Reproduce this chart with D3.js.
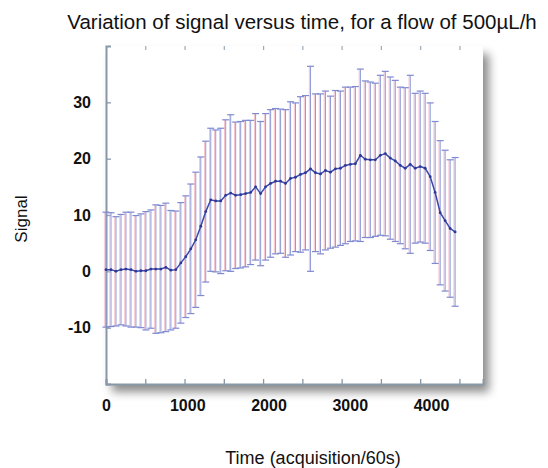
<!DOCTYPE html>
<html><head><meta charset="utf-8">
<script src="https://cdn.jsdelivr.net/npm/d3@7"></script>
<style>
html,body{margin:0;padding:0;background:#fff;}
svg{display:block;font-family:"Liberation Sans",Arial,Helvetica,sans-serif;}
</style></head>
<body><svg id="c" width="548" height="468"></svg>
<script>
const titleText = "Variation of signal versus time, for a flow of 500µL/h";
const xLabelText = "Time (acquisition/60s)";
const yLabelText = "Signal";
const time = [0,64,127,191,254,318,381,445,508,572,635,699,762,826,889,953,1016,1080,1143,1207,1270,1334,1397,1461,1524,1588,1651,1715,1778,1842,1905,1969,2032,2096,2159,2223,2286,2350,2413,2477,2540,2604,2667,2731,2794,2858,2921,2985,3048,3112,3175,3239,3302,3366,3429,3493,3556,3620,3683,3747,3810,3874,3937,4001,4064,4128,4191,4255,4318,4382,4445];
const meanVals = [0.3,0.3,0.0,0.3,0.4,0.3,0.0,0.1,0.1,0.4,0.4,0.4,0.7,0.2,0.3,1.5,2.6,4.0,5.6,8.0,10.6,12.7,12.5,12.5,13.5,13.9,13.5,13.6,13.8,14.0,15.0,13.8,15.0,15.6,16.0,16.0,15.6,16.5,16.7,17.2,17.5,18.2,17.5,17.3,17.9,17.6,18.2,18.3,18.8,19.0,19.1,20.6,19.9,19.8,19.8,20.6,20.9,20.1,19.6,18.8,18.3,19.0,18.3,18.6,18.3,16.8,14.0,10.4,9.0,7.6,7.0];
const errVals = [10.2,10.1,9.7,9.8,10.1,10.2,9.9,10.1,10.5,10.5,11.4,11.3,11.4,10.6,10.4,10.7,10.8,11.5,12.0,12.3,12.5,12.7,12.6,12.9,13.4,13.9,13.0,13.0,13.0,12.8,13.0,12.8,13.0,13.1,12.9,12.8,13.1,13.6,13.2,13.8,13.7,18.2,14.0,14.2,14.1,13.5,13.9,13.7,13.9,13.7,13.7,15.3,13.9,13.8,13.6,14.2,14.6,14.4,14.3,13.9,14.3,15.8,13.3,13.4,13.3,13.1,12.6,12.8,12.5,12.2,13.2];
const yTicks = [-10,0,10,20,30];
const xMinorTicks = [0,500,1000,1500,2000,2500,3000,3500,4000,4500];
const xTickLabels = [0,1000,2000,3000,4000];

const data = time.map((t,i)=>({t, m: meanVals[i], e: errVals[i]}));

const svg = d3.select("#c");
const x = d3.scaleLinear().domain([0,4800]).range([106,483]);
const y = d3.scaleLinear().domain([-20,40]).range([384,46]);
const xLab = d3.scaleLinear().domain([0,4000]).range([106,431]);

const defs = svg.append("defs");
const f = defs.append("filter").attr("id","sh").attr("x","-10%").attr("y","-10%").attr("width","130%").attr("height","130%");
f.append("feDropShadow").attr("dx",6).attr("dy",8).attr("stdDeviation",5).attr("flood-color","#000").attr("flood-opacity",0.45);

const [x0,x1] = x.range(); const [y0,y1] = y.range();
svg.append("rect").attr("x",x0).attr("y",y1).attr("width",x1-x0).attr("height",y0-y1)
  .attr("fill","#fff").attr("filter","url(#sh)");

svg.append("text").attr("x",302).attr("y",28.5).attr("text-anchor","middle")
  .attr("font-size",20.5).attr("fill","#111").text(titleText);
svg.append("text").attr("x",313).attr("y",464).attr("text-anchor","middle")
  .attr("font-size",18).attr("fill","#111").text(xLabelText);
svg.append("text").attr("transform","translate(27,219) rotate(-90)").attr("text-anchor","middle")
  .attr("font-size",17).attr("fill","#111").text(yLabelText);

const axisCol = "#8898a8";
const gB = svg.append("g").attr("transform",`translate(0,${y0})`)
  .call(d3.axisTop(x).tickValues(xMinorTicks).tickSize(5).tickFormat(""));
const gT = svg.append("g").attr("transform",`translate(0,${y1})`)
  .call(d3.axisBottom(x).tickValues(xMinorTicks).tickSize(4).tickFormat(""));
const gL = svg.append("g").attr("transform",`translate(${x0},0)`)
  .call(d3.axisRight(y).tickValues(yTicks).tickSize(5).tickFormat(""));
[gB,gL].forEach(g=>{g.select(".domain").attr("stroke",axisCol).attr("stroke-width",2);
  g.selectAll(".tick line").attr("stroke",axisCol).attr("stroke-width",1.3);});
gT.select(".domain").remove();
gT.selectAll(".tick line").attr("stroke","#9aaab8").attr("stroke-width",1.2);

const fmt = d => String(d);
const gXL = svg.append("g").attr("transform",`translate(0,${y0})`)
  .call(d3.axisBottom(xLab).tickValues(xTickLabels).tickSize(0).tickPadding(16).tickFormat(fmt));
gXL.select(".domain").remove();
gXL.selectAll("text").attr("font-size",16).attr("font-weight","bold").attr("fill","#111")
  .attr("font-family","'Liberation Sans',Arial,sans-serif");
const gYL = svg.append("g").attr("transform",`translate(${x0},0)`)
  .call(d3.axisLeft(y).tickValues(yTicks).tickSize(0).tickPadding(15).tickFormat(fmt));
gYL.select(".domain").remove();
gYL.selectAll("text").attr("font-size",16).attr("font-weight","bold").attr("fill","#111")
  .attr("font-family","'Liberation Sans',Arial,sans-serif");

const eb = svg.append("g");
eb.selectAll("line.pk").data(data).join("line").attr("class","pk")
  .attr("x1",d=>x(d.t)-1.2).attr("x2",d=>x(d.t)-1.2)
  .attr("y1",d=>y(d.m+d.e)).attr("y2",d=>y(d.m-d.e))
  .attr("stroke","#f2bcc6").attr("stroke-width",0.9);
eb.selectAll("line.bl").data(data).join("line").attr("class","bl")
  .attr("x1",d=>x(d.t)).attr("x2",d=>x(d.t))
  .attr("y1",d=>y(d.m+d.e)).attr("y2",d=>y(d.m-d.e))
  .attr("stroke","#8f9ad8").attr("stroke-width",1);
eb.selectAll("line.cu").data(data).join("line").attr("class","cu")
  .attr("x1",d=>x(d.t)-3.5).attr("x2",d=>x(d.t)+3.5)
  .attr("y1",d=>y(d.m+d.e)).attr("y2",d=>y(d.m+d.e))
  .attr("stroke","#7f8ad0").attr("stroke-width",1.2);
eb.selectAll("line.cl").data(data).join("line").attr("class","cl")
  .attr("x1",d=>x(d.t)-3.5).attr("x2",d=>x(d.t)+3.5)
  .attr("y1",d=>y(d.m-d.e)).attr("y2",d=>y(d.m-d.e))
  .attr("stroke","#7f8ad0").attr("stroke-width",1.2);

svg.append("path").datum(data)
  .attr("d",d3.line().x(d=>x(d.t)).y(d=>y(d.m)))
  .attr("fill","none").attr("stroke","#3a48a8").attr("stroke-width",1.5);
svg.append("g").selectAll("circle").data(data).join("circle")
  .attr("cx",d=>x(d.t)).attr("cy",d=>y(d.m)).attr("r",1.4).attr("fill","#2c3898");
</script></body></html>
